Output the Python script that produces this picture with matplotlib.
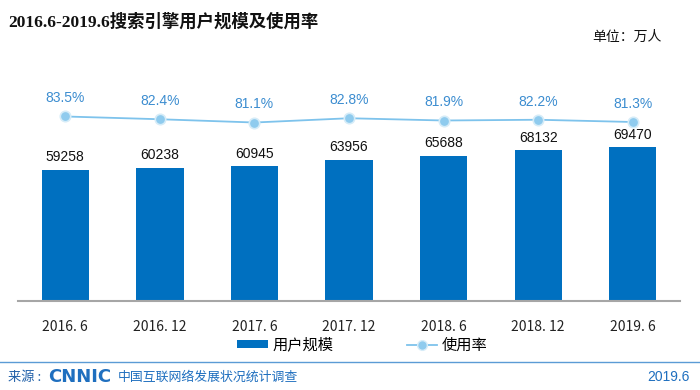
"""
plot.py - 2016.6-2019.6 搜索引擎用户规模及使用率 (CNNIC style bar + line chart)
"""
import numpy as np
import matplotlib
matplotlib.use("Agg")
import matplotlib.pyplot as plt
from matplotlib.lines import Line2D
from matplotlib.patches import Patch

plt.rcParams["font.family"] = ["Noto Sans CJK SC", "DejaVu Sans"]

# ---------------------------------------------------------------------------
# Data
# ---------------------------------------------------------------------------
periods = ["2016. 6", "2016. 12", "2017. 6", "2017. 12", "2018. 6", "2018. 12", "2019. 6"]
users = [59258, 60238, 60945, 63956, 65688, 68132, 69470]        # 万人
usage_rate = [83.5, 82.4, 81.1, 82.8, 81.9, 82.2, 81.3]          # %

BAR_COLOR = "#0070C0"
LINE_COLOR = "#7EC3EC"
MARKER_COLOR = "#8FCBEE"
PCT_COLOR = "#3C8DD0"
FOOT_BLUE = "#1F6FBF"

fig = plt.figure(figsize=(7, 3.9), dpi=100)

# main axes (pixels: x 18..680, y 60..301)
ax = fig.add_axes([18 / 700, (390 - 301) / 390, 662 / 700, 241 / 390], zorder=2)
ax.patch.set_alpha(0)
x = np.arange(len(periods))
ax.bar(x, users, width=0.5, color=BAR_COLOR, zorder=2)
ax.set_xlim(-0.5, len(periods) - 0.5)
ax.set_ylim(0, 109000)
ax.set_yticks([])
ax.set_xticks(x)
ax.set_xticklabels(periods, fontsize=10, color="#222222")
ax.tick_params(axis="x", length=0, pad=14)
for side in ["top", "right", "left"]:
    ax.spines[side].set_visible(False)
ax.spines["bottom"].set_color("#A6A6A6")
ax.spines["bottom"].set_linewidth(1.5)

for xi, v in zip(x, users):
    ax.annotate(f"{v}", (xi, v), xytext=(0, 4), textcoords="offset points",
                ha="center", va="bottom", fontsize=10, color="#111111",
                family=["Liberation Sans"])

# usage rate line on secondary axis
ax2 = ax.twinx()
ax2.set_ylim(10, 106)
ax2.plot(x, usage_rate, color=LINE_COLOR, linewidth=1.3, marker="o",
         markersize=7.5, markerfacecolor=MARKER_COLOR, markeredgecolor="#D6ECF8",
         markeredgewidth=1.2, zorder=3)
ax2.set_yticks([])
for side in ["top", "right", "left", "bottom"]:
    ax2.spines[side].set_visible(False)
for xi, v in zip(x, usage_rate):
    ax2.annotate(f"{v:.1f}%", (xi, v), xytext=(0, 8), textcoords="offset points",
                 ha="center", va="bottom", fontsize=10, color=PCT_COLOR,
                 family=["Liberation Sans"])

# title and unit
fig.text(8 / 700, 1 - 22 / 390, "2016.6-2019.6搜索引擎用户规模及使用率", fontsize=12.5,
         fontweight="bold", color="#111111", va="center", ha="left",
         family=["Liberation Serif", "Noto Sans CJK SC"])
fig.text(592 / 700, 1 - 37 / 390, "单位：万人", fontsize=10, color="#111111",
         va="center", ha="left")

# legend
handles = [
    Patch(facecolor=BAR_COLOR, edgecolor="none", label="用户规模"),
    Line2D([0], [0], color=LINE_COLOR, linewidth=1.3, marker="o", markersize=7,
           markerfacecolor=MARKER_COLOR, markeredgecolor="#D6ECF8", label="使用率"),
]
fig.legend(handles=handles, loc="center", bbox_to_anchor=(0.518, 1 - 345 / 390),
           ncol=2, frameon=False, fontsize=11, handlelength=2.0, handleheight=0.45,
           columnspacing=4.8, handletextpad=0.3)

# footer
fig.add_artist(Line2D([0, 1], [1 - 362 / 390] * 2, color="#5B9BD5", linewidth=1.0))
fig.text(8 / 700, 1 - 377 / 390, "来源 :", fontsize=9.5, color="#1F5FA8",
         va="center", ha="left")
fig.text(48 / 700, 1 - 377 / 390, "CNNIC", fontsize=13, fontweight="heavy",
         color=FOOT_BLUE, va="center", ha="left", family=["DejaVu Sans"])
fig.text(118 / 700, 1 - 377 / 390, "中国互联网络发展状况统计调查", fontsize=9.3,
         color=FOOT_BLUE, va="center", ha="left")
fig.text(690 / 700, 1 - 377 / 390, "2019.6", fontsize=10, color=FOOT_BLUE,
         va="center", ha="right", family=["Liberation Sans"])

fig.savefig("out.png", dpi=100)
